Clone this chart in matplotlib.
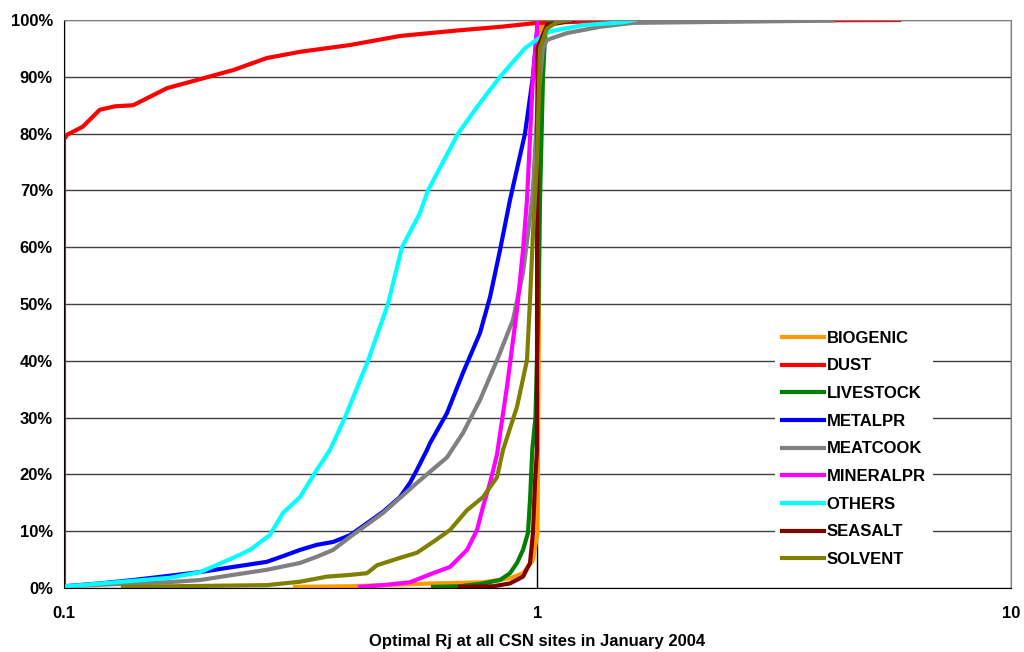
# -*- coding: utf-8 -*-

import matplotlib
matplotlib.use('Agg')
import matplotlib.pyplot as plt
from matplotlib.ticker import FixedLocator, FixedFormatter, NullLocator

# Cumulative distribution of optimal Rj per source (x = Rj, y = % of sites)
sources = ['BIOGENIC', 'DUST', 'LIVESTOCK', 'METALPR', 'MEATCOOK',
           'MINERALPR', 'OTHERS', 'SEASALT', 'SOLVENT']
colors = ['#FF9900', '#FF0000', '#008000', '#0000FF', '#808080',
          '#FF00FF', '#00FFFF', '#800000', '#808000']

biogenic_x = [0.3075, 0.4018, 0.6016, 0.7672, 0.8747, 0.932, 0.9783, 1.0, 1.0074, 1.012, 1.03]
biogenic_y = [0.2, 0.3, 0.8, 1.0, 1.7, 2.6, 4.9, 9.7, 50, 97, 100]

dust_x = [0.1, 0.1, 0.1015, 0.1095, 0.119, 0.128, 0.14, 0.165, 0.194, 0.228, 0.268, 0.315,
          0.402, 0.513, 0.686, 0.834, 1.0, 1.36, 2.5, 5.8]
dust_y = [0, 79, 79.8, 81.2, 84.2, 84.8, 85, 88, 89.6, 91.2, 93.3, 94.4,
          95.6, 97.2, 98.2, 98.8, 99.5, 99.8, 99.9, 100]

livestock_x = [0.6016, 0.6861, 0.7672, 0.8334, 0.8747, 0.9051, 0.932, 0.9548, 0.9643, 0.975,
               0.99, 1.005, 1.012, 1.027, 1.037, 1.06]
livestock_y = [0.2, 0.3, 0.8, 1.4, 2.6, 4.4, 6.7, 9.7, 15.5, 24.3,
               30, 50, 68, 90, 97, 100]

metalpr_x = [0.1, 0.119, 0.14, 0.165, 0.194, 0.2275, 0.268, 0.290, 0.315, 0.342, 0.370, 0.402,
             0.4365, 0.4717, 0.5123, 0.5378, 0.5564, 0.5842, 0.5929, 0.644, 0.6962, 0.7561,
             0.7938, 0.8334, 0.8747, 0.941, 0.978, 0.9975, 1.0]
metalpr_y = [0.3, 0.8, 1.4, 2.1, 2.8, 3.7, 4.6, 5.6, 6.7, 7.6, 8.1, 9.3,
             11.4, 13.4, 16, 18.5, 20.8, 24.3, 25.5, 30.8, 37.9, 44.9,
             51.2, 59.5, 68.3, 80, 90, 98, 100]

meatcook_x = [0.1, 0.1398, 0.165, 0.194, 0.2275, 0.268, 0.315, 0.342, 0.37, 0.402, 0.4717,
              0.5564, 0.644, 0.6962, 0.7561, 0.8213, 0.8876, 0.932, 0.9643, 0.978, 1.0,
              1.027, 1.047, 1.154, 1.355, 1.591, 4.2]
meatcook_y = [0.3, 0.8, 1.0, 1.4, 2.3, 3.2, 4.4, 5.5, 6.7, 9.0, 13.2,
              18.5, 23, 27.3, 33.1, 40.1, 47.2, 55.5, 65.3, 70, 85,
              95, 96.5, 97.7, 98.8, 99.5, 99.9]

mineralpr_x = [0.4218, 0.4717, 0.5378, 0.6016, 0.6535, 0.7099, 0.7451, 0.7672, 0.7938, 0.8213,
               0.862, 0.9051, 0.932, 0.9502, 0.978, 0.9975, 1.0]
mineralpr_y = [0.2, 0.5, 1.0, 2.6, 3.7, 6.7, 10.2, 14.3, 18.5, 23.5,
               35.4, 49, 59.5, 68.3, 90, 98, 100]

others_x = [0.1, 0.1015, 0.1675, 0.194, 0.2275, 0.247, 0.272, 0.290, 0.315, 0.342, 0.3645,
            0.392, 0.4385, 0.4833, 0.5173, 0.5646, 0.5871, 0.6795, 0.75, 0.8334, 0.94,
            0.995, 1.063, 1.248, 1.516, 1.6]
others_y = [0.3, 0.3, 1.8, 2.8, 5.3, 6.7, 9.3, 13.2, 16, 20.8, 24.3,
            30, 40, 50, 60, 66, 70, 80, 85, 90, 95,
            96.5, 98, 99.1, 99.6, 100]

seasalt_x = [0.6861, 0.8054, 0.8747, 0.932, 0.9643, 0.9783, 0.9879, 0.9975, 0.998, 1.0,
             1.047, 1.132, 1.189]
seasalt_y = [0.2, 0.3, 0.8, 2.0, 4.4, 9.7, 18.5, 24.3, 60, 95,
             99.1, 99.6, 100]

solvent_x = [0.1332, 0.2684, 0.3151, 0.3592, 0.4018, 0.4365, 0.4581, 0.5123, 0.5564, 0.6016,
             0.6535, 0.7099, 0.7672, 0.8213, 0.8456, 0.9051, 0.9502, 0.9643, 0.9783, 0.9975,
             1.012, 1.047, 1.099, 1.171]
solvent_y = [0.2, 0.5, 1.1, 2.0, 2.3, 2.6, 4.0, 5.3, 6.2, 8.1,
             10.2, 13.7, 16, 19.5, 24.3, 31.9, 40.1, 50.7, 62.5, 75,
             95, 98.5, 99.6, 100]

series_x = [biogenic_x, dust_x, livestock_x, metalpr_x, meatcook_x,
            mineralpr_x, others_x, seasalt_x, solvent_x]
series_y = [biogenic_y, dust_y, livestock_y, metalpr_y, meatcook_y,
            mineralpr_y, others_y, seasalt_y, solvent_y]

x_ticks = [0.1, 1, 10]
x_tick_labels = ['0.1', '1', '10']
y_ticks = list(range(0, 101, 10))
y_tick_labels = ['{}%'.format(v) for v in y_ticks]

plt.rcParams['font.family'] = ['Liberation Sans', 'DejaVu Sans']
plt.rcParams['font.weight'] = 'bold'

fig = plt.figure(figsize=(10.24, 6.52), dpi=100)
ax = fig.add_axes([0.0625, 0.0982, 0.9248, 0.8711])

for name, color, xs, ys in zip(sources, colors, series_x, series_y):
    ax.plot(xs, ys, color=color, lw=3, label=name, solid_joinstyle='round')

# Axes formatting
ax.set_xscale('log')
ax.set_xlim(0.1, 10)
ax.set_ylim(0, 100)
ax.xaxis.set_major_locator(FixedLocator(x_ticks))
ax.xaxis.set_major_formatter(FixedFormatter(x_tick_labels))
ax.xaxis.set_minor_locator(NullLocator())
ax.yaxis.set_major_locator(FixedLocator(y_ticks))
ax.yaxis.set_major_formatter(FixedFormatter(y_tick_labels))
ax.tick_params(axis='both', length=0, labelsize=12)
ax.tick_params(axis='x', pad=13)
ax.tick_params(axis='y', pad=8)
ax.grid(axis='y', color='#404040', lw=1)
ax.grid(axis='x', color='black', lw=1)
ax.set_axisbelow(True)
for side in ['top', 'right']:
    ax.spines[side].set_color('#808080')
ax.spines['left'].set_color('black')
ax.spines['bottom'].set_color('black')

ax.set_xlabel('Optimal Rj at all CSN sites in January 2004', fontsize=12,
              fontweight='bold', labelpad=9)

leg = ax.legend(loc='upper left', bbox_to_anchor=(0.751, 0.4645), borderaxespad=0,
                frameon=True, fancybox=False, framealpha=1, edgecolor='white',
                fontsize=12, handlelength=2.5, handletextpad=0.2, labelspacing=0.76,
                borderpad=0.4)
leg.get_frame().set_linewidth(0)
for line in leg.get_lines():
    line.set_linewidth(3)

fig.savefig('out.png', dpi=100)
